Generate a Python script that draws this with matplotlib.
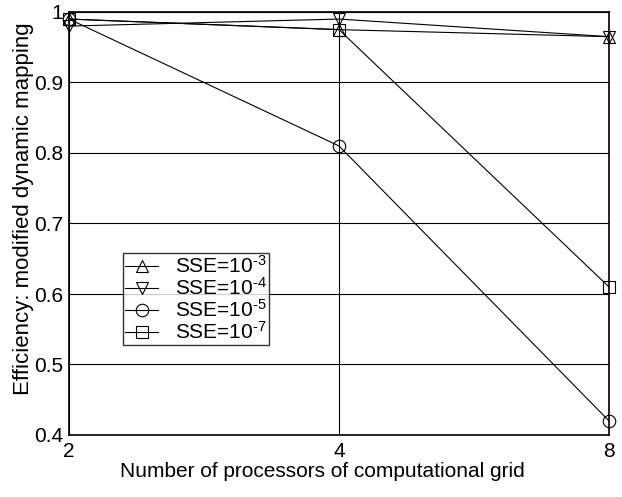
import matplotlib
matplotlib.use("Agg")
import matplotlib.pyplot as plt

plt.rcParams['font.family'] = ['Liberation Sans', 'DejaVu Sans']
plt.rcParams['mathtext.fontset'] = 'custom'
plt.rcParams['mathtext.rm'] = 'Liberation Sans'
plt.rcParams['mathtext.it'] = 'Liberation Sans'

procs = [2, 4, 8]
sse3 = [0.99, 0.975, 0.965]
sse4 = [0.98, 0.99, 0.965]
sse5 = [0.99, 0.81, 0.42]
sse7 = [0.99, 0.975, 0.61]
labels = ['SSE=10$^{\\text{-}3}$', 'SSE=10$^{\\text{-}4}$',
          'SSE=10$^{\\text{-}5}$', 'SSE=10$^{\\text{-}7}$']

fig = plt.figure(figsize=(6.22, 4.97), dpi=100)
ax = fig.add_axes([69 / 622, 1 - 435 / 497, 540 / 622, 423 / 497])

ax.set_xscale('log', base=2)
ax.set_xlim(2, 8)
ax.set_ylim(0.4, 1.0)
ax.set_xticks(procs)
ax.set_xticklabels(['2', '4', '8'])
ax.set_yticks([0.4, 0.5, 0.6, 0.7, 0.8, 0.9, 1.0])
ax.set_yticklabels(['0.4', '0.5', '0.6', '0.7', '0.8', '0.9', '1'])
ax.minorticks_off()
ax.tick_params(length=0, labelsize=15, pad=4)
ax.tick_params(axis='x', pad=5)
ax.grid(True, color='black', linewidth=0.8)

mk = dict(color='black', linewidth=0.8, markersize=9, markerfacecolor='none',
          markeredgewidth=0.8, clip_on=False)
markers = ['^', 'v', 'o', 's']
for ys, m, lab in zip([sse3, sse4, sse5, sse7], markers, labels):
    ax.plot(procs, ys, marker=m, label=lab, **mk)

for s in ax.spines.values():
    s.set_linewidth(1.2)

ax.set_xlabel('Number of processors of computational grid', fontsize=15)
ax.xaxis.set_label_coords(0.469, -0.065)
ax.set_ylabel('Efficiency: modified dynamic mapping', fontsize=16)
ax.yaxis.set_label_coords(-0.065, 0.534)

leg = ax.legend(loc='upper left', bbox_to_anchor=(0.1, 0.43), fontsize=15,
                frameon=True, fancybox=False, edgecolor='black',
                borderpad=0.1, labelspacing=0.0, handlelength=1.6,
                handletextpad=0.8, borderaxespad=0)
leg.get_frame().set_linewidth(1.0)

fig.savefig('out.png', dpi=100)
